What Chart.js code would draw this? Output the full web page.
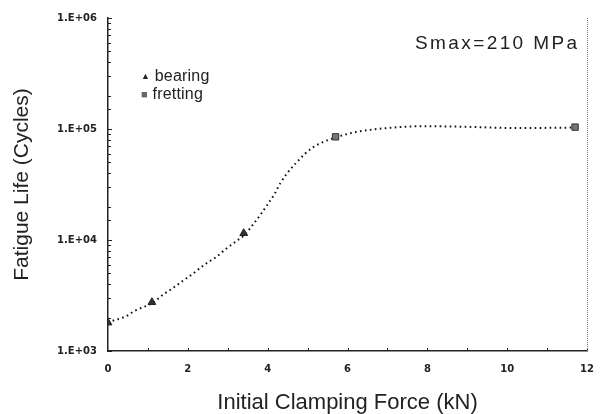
<!DOCTYPE html>
<html>
<head>
<meta charset="utf-8">
<script src="https://cdn.jsdelivr.net/npm/chart.js@4.4.1/dist/chart.umd.min.js"></script>
<style>
  html, body { margin: 0; padding: 0; background: #fff; }
  #wrap { position: relative; width: 606px; height: 414px; overflow: hidden; }
  canvas { position: absolute; left: 0; top: 0; }
  .note { position: absolute; font-family: "Liberation Sans", Arial, sans-serif; color: #222; white-space: nowrap; }
</style>
</head>
<body>
<div id="wrap">
  <canvas id="c" width="606" height="414"></canvas>
  <div class="note" style="left:415px; top:32px; font-size:19px; letter-spacing:2.4px;">Smax=210 MPa</div>
  <div class="note" style="left:141px; top:67px; font-size:16px; line-height:18px; letter-spacing:0.2px;">
    <div><span style="font-size:9px; vertical-align:2px;">&#9650;</span> bearing</div>
    <div><span style="font-size:11px; color:#666; vertical-align:1px;">&#9632;</span> fretting</div>
  </div>
</div>
<script>
// ---- data ----
const bearingX = [0, 1.1, 3.4];
const bearingY = [1800, 2750, 11500];
const frettingX = [5.7, 11.7];
const frettingY = [85000, 104000];
// dotted trend curve
const trendX = [0, 0.17, 0.34, 0.51, 0.66, 0.95, 1.15, 1.37, 1.63, 1.88, 2.12, 2.44, 2.71, 2.95, 3.22, 3.44, 3.66, 3.85, 4.02, 4.17, 4.32, 4.49, 4.71, 4.93, 5.15, 5.39, 5.73, 6.22, 7.0, 7.85, 8.83, 10.27, 11.67];
const trendY = [1800, 1900, 1980, 2110, 2290, 2540, 2760, 3200, 3700, 4300, 4950, 6080, 7030, 8300, 9800, 11300, 14200, 17500, 21500, 25900, 32600, 40100, 49400, 59600, 68900, 76400, 84700, 94000, 102000, 106000, 105000, 102000, 103000];
const xTicks = [0, 2, 4, 6, 8, 10, 12];
const yMajor = [1000, 10000, 100000, 1000000];
const yLabels = ['1.E+03', '1.E+04', '1.E+05', '1.E+06'];

const zip = (xs, ys) => xs.map((x, i) => ({x: x, y: ys[i]}));

const tickFont = {family: '"DejaVu Sans", Verdana, sans-serif', size: 10, weight: 'bold'};

const innerTicks = {
  id: 'innerTicks',
  afterDraw(chart) {
    const ctx = chart.ctx, a = chart.chartArea;
    const xs = chart.scales.x, ys = chart.scales.y;
    ctx.save();
    ctx.strokeStyle = '#222';
    ctx.lineWidth = 1;
    ys.ticks.forEach(t => {
      const p = Math.round(ys.getPixelForValue(t.value)) + 0.5;
      const major = yMajor.includes(t.value);
      ctx.beginPath();
      ctx.moveTo(a.left, p);
      ctx.lineTo(a.left + (major ? 4 : 3), p);
      ctx.stroke();
    });
    for (let v = 1; v <= 12; v++) {
      const p = Math.round(xs.getPixelForValue(v)) + 0.5;
      ctx.beginPath();
      ctx.moveTo(p, a.bottom);
      ctx.lineTo(p, a.bottom - 3);
      ctx.stroke();
    }
    ctx.strokeStyle = '#777';
    ctx.setLineDash([1, 1]);
    ctx.beginPath();
    ctx.moveTo(a.right + 0.5, a.top);
    ctx.lineTo(a.right + 0.5, a.bottom);
    ctx.stroke();
    ctx.restore();
  }
};

new Chart(document.getElementById('c'), {
  type: 'scatter',
  data: {
    datasets: [
      {
        label: 'trend',
        data: zip(trendX, trendY),
        showLine: true,
        borderColor: '#111',
        borderWidth: 2,
        borderDash: [1.6, 3.4],
        pointRadius: 0,
        tension: 0.4,
        cubicInterpolationMode: 'monotone',
        order: 3
      },
      {
        label: 'bearing',
        data: zip(bearingX, bearingY),
        pointStyle: 'triangle',
        pointRadius: 4.5,
        backgroundColor: '#333',
        borderColor: '#222',
        borderWidth: 1,
        order: 1
      },
      {
        label: 'fretting',
        data: zip(frettingX, frettingY),
        pointStyle: 'rect',
        pointRadius: 4.5,
        backgroundColor: '#777',
        borderColor: '#333',
        borderWidth: 1,
        order: 2
      }
    ]
  },
  options: {
    responsive: false,
    animation: false,
    layout: {padding: {left: 0, right: 6, top: 18, bottom: 0}},
    plugins: {legend: {display: false}, tooltip: {enabled: false}},
    scales: {
      x: {
        type: 'linear', min: 0, max: 12,
        afterBuildTicks: s => { s.ticks = xTicks.map(v => ({value: v})); },
        afterFit: s => { s.height = 63; },
        grid: {display: true, drawOnChartArea: false, drawTicks: false},
        border: {display: true, color: '#222', width: 1.5},
        ticks: {font: tickFont, color: '#222', padding: 12, maxRotation: 0},
        title: {display: true, text: 'Initial Clamping Force (kN)', color: '#222',
                font: {family: '"Liberation Sans", Arial, sans-serif', size: 22, lineHeight: 1},
                padding: {top: 0, bottom: 0}}
      },
      y: {
        type: 'logarithmic', min: 1000, max: 1000000,
        afterFit: s => { s.width = 108; },
        grid: {display: true, drawOnChartArea: false, drawTicks: false},
        border: {display: true, color: '#222', width: 1.5},
        ticks: {
          font: tickFont, color: '#222', padding: 11, autoSkip: false,
          callback: v => { const i = yMajor.indexOf(v); return i >= 0 ? yLabels[i] : ''; }
        },
        title: {display: true, text: 'Fatigue Life (Cycles)', color: '#222',
                font: {family: '"Liberation Sans", Arial, sans-serif', size: 21, lineHeight: 1},
                padding: {top: 12, bottom: 0}}
      }
    }
  },
  plugins: [innerTicks]
});
</script>
</body>
</html>
